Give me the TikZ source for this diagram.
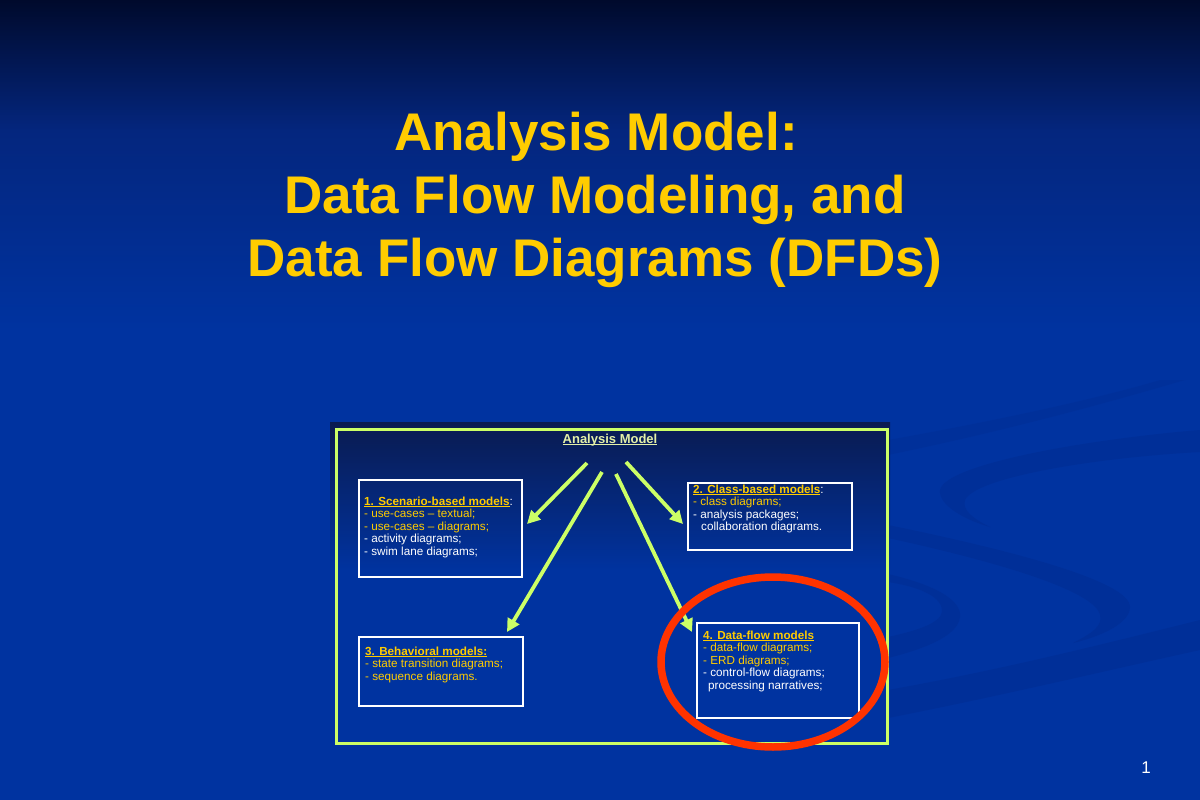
\documentclass[tikz,border=0pt]{standalone}
\usepackage{fontspec}
\setmainfont{Liberation Sans}
\usetikzlibrary{arrows.meta}
\definecolor{bgblue}{HTML}{0033A0}
\definecolor{bgtop}{HTML}{000A2C}
\definecolor{bgmid}{HTML}{04267E}
\definecolor{gold}{HTML}{FFCC00}
\definecolor{lime}{HTML}{CCFF66}
\definecolor{ringred}{HTML}{FF3300}
\definecolor{swoosh}{HTML}{002A8C}
\definecolor{inntop}{HTML}{0A1B50}
\definecolor{innlabel}{HTML}{E4F0A8}
\newcommand\myul[1]{\setbox0=\hbox{#1}\rlap{\rule[-2pt]{\wd0}{0.9pt}}\box0}
\begin{document}
\begin{tikzpicture}[x=1pt,y=-1pt,
  ttl/.style={text=gold,font=\fontsize{53}{60}\selectfont\bfseries,anchor=base,inner sep=0},
  mbox/.style={draw=white,line width=1.6pt,anchor=north west,inner sep=0},
  ln/.style={anchor=base west,inner sep=0,font=\fontsize{11.7}{13}\selectfont},
  hd/.style={anchor=base west,inner sep=0,font=\fontsize{11.7}{13}\selectfont\bfseries},
  arr/.style={draw=lime,line width=3.8pt,-{Triangle[length=13pt,width=13pt]}},
  swo/.style={fill=swoosh,opacity=0.4}]
% background
\useasboundingbox (0,0) rectangle (1200,800);
\fill[bgblue] (0,0) rectangle (1200,800);
\shade[top color=bgtop,bottom color=bgmid] (0,0) rectangle (1200,131);
\shade[top color=bgmid,bottom color=bgblue] (0,130) rectangle (1200,330);
% swooshes
\fill[swo,opacity=0.25] (888,440) .. controls (1000,420) and (1100,398) .. (1160,380) -- (1185,380) .. controls (1100,405) and (1000,432) .. (888,455) -- cycle;
\fill[swo] (1200,430) .. controls (1080,440) and (945,465) .. (940,490) .. controls (938,505) and (965,520) .. (990,527) .. controls (972,518) and (962,510) .. (965,500) .. controls (975,478) and (1090,458) .. (1200,452) -- cycle;
\fill[swo] (888,525) .. controls (1000,548) and (1130,580) .. (1130,607) .. controls (1130,625) and (1095,638) .. (1073,643) .. controls (1093,633) and (1103,625) .. (1100,615) .. controls (1095,590) and (990,560) .. (888,538) -- cycle;
\fill[swo] (888,574) .. controls (935,585) and (962,600) .. (960,617) .. controls (958,637) and (920,650) .. (888,658) -- (888,637) .. controls (920,630) and (943,622) .. (942,610) .. controls (941,595) and (915,586) .. (888,582) -- cycle;
\fill[swo] (888,690) .. controls (1000,670) and (1100,645) .. (1200,620) -- (1200,650) .. controls (1100,672) and (1000,696) .. (888,718) -- cycle;
% title
\node[ttl] (t1) at (596,150) {Analysis Model:};
\node[ttl] (t2) at (595,213) {Data Flow Modeling, and};
\node[ttl] (t3) at (595,276) {Data Flow Diagrams (DFDs)};
% inner picture
\shade[top color=inntop,bottom color=bgblue] (330,422) rectangle (890,571);
\fill[bgblue] (330,570) rectangle (890,746);
\node[draw=lime,line width=3pt,minimum width=551pt,minimum height=314pt,anchor=north west,inner sep=0] (frame) at (335,428) {};
\node[anchor=base,inner sep=0,text=innlabel,font=\fontsize{13}{15}\selectfont\bfseries] (amodel) at (610,443) {\myul{Analysis Model}};
% boxes
\node[mbox,minimum width=163pt,minimum height=97pt] (box1) at (358,479) {};
\node[mbox,minimum width=164pt,minimum height=67pt] (box2) at (687,482) {};
\node[mbox,minimum width=164pt,minimum height=69pt] (box3) at (358,636) {};
\node[mbox,minimum width=162pt,minimum height=95pt] (box4) at (696,622) {};
% box 1 text
\node[hd,text=gold] (b1a) at (364,505) {\myul{1. Scenario-based models}\textcolor{white}{\mdseries:}};
\node[ln,text=gold] (b1b) at (364,517.6) {- use-cases – textual;};
\node[ln,text=gold] (b1c) at (364,530.2) {- use-cases – diagrams;};
\node[ln,text=white] (b1d) at (364,542.8) {- activity diagrams;};
\node[ln,text=white] (b1e) at (364,555.4) {- swim lane diagrams;};
% box 2 text
\node[hd,text=gold] (b2a) at (693,493) {\myul{2. Class-based models}\textcolor{white}{\mdseries:}};
\node[ln,text=gold] (b2b) at (693,505.6) {- class diagrams;};
\node[ln,text=white] (b2c) at (693,518.2) {- analysis packages;};
\node[ln,text=white] (b2d) at (701,530.8) {collaboration diagrams.};
% box 3 text
\node[hd,text=gold] (b3a) at (365,655) {\myul{3. Behavioral models:}};
\node[ln,text=gold] (b3b) at (365,667.6) {- state transition diagrams;};
\node[ln,text=gold] (b3c) at (365,680.2) {- sequence diagrams.};
% box 4 text
\node[hd,text=gold] (b4a) at (703,639) {\myul{4. Data-flow models}};
\node[ln,text=gold] (b4b) at (703,651.6) {- data-flow diagrams;};
\node[ln,text=gold] (b4c) at (703,664.2) {- ERD diagrams;};
\node[ln,text=white] (b4d) at (703,676.8) {- control-flow diagrams;};
\node[ln,text=white] (b4e) at (708,689.4) {processing narratives;};
% arrows
\coordinate (s1) at (587,463);
\coordinate (s2) at (602,472);
\coordinate (s3) at (616,474);
\coordinate (s4) at (626,462);
\coordinate (e1) at (527,524);
\coordinate (e2) at (507,632);
\coordinate (e3) at (692,632);
\coordinate (e4) at (683,524);
\draw[arr] (s1) -- (e1);
\draw[arr] (s2) -- (e2);
\draw[arr] (s3) -- (e3);
\draw[arr] (s4) -- (e4);
% red ring
\draw[ringred,line width=7.5pt] (773,662) ellipse [x radius=112, y radius=85];
% page number
\node[anchor=base,inner sep=0,text=white,font=\fontsize{17}{20}\selectfont] (pnum) at (1146,773) {1};
\end{tikzpicture}
\end{document}
